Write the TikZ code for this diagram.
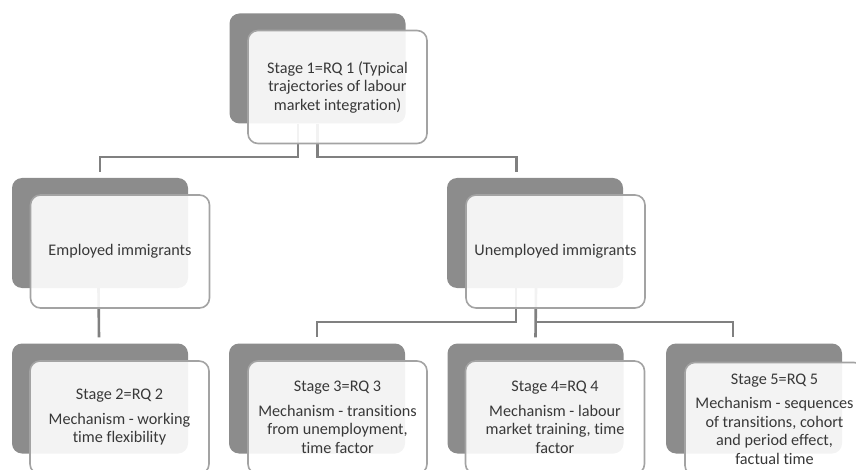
\documentclass[tikz,border=0pt]{standalone}
\usepackage{fontspec}
\setmainfont{Carlito}[Ligatures=NoCommon]
\usetikzlibrary{calc}
\pgfdeclarelayer{background}
\pgfsetlayers{background,main}
\definecolor{darkbox}{HTML}{8C8C8C}
\definecolor{framegray}{HTML}{A3A3A3}
\definecolor{conngray}{HTML}{808080}
\definecolor{txtgray}{HTML}{383838}
\tikzset{
  backbox/.style={rectangle, rounded corners=10pt, fill=darkbox, draw=none,
    minimum width=176pt, minimum height=110pt, inner sep=0pt},
  frontbox/.style={rectangle, rounded corners=10pt, fill=white, fill opacity=0.9,
    text opacity=1, draw=framegray, line width=1.6pt,
    minimum width=179pt, minimum height=113pt, inner sep=0pt,
    align=center, text=txtgray, font=\fontsize{16.2}{18.5}\selectfont},
  conn/.style={draw=conngray, line width=2.6pt}
}
\begin{document}
\begin{tikzpicture}[x=1pt,y=-1pt]
\useasboundingbox (0,0) rectangle (856,470);
% back boxes
\node[backbox] (topb) at (317.5,68.5) {};
\node[backbox] (empb) at (100,233) {};
\node[backbox] (unb) at (535,233) {};
\node[backbox] (s2b) at (100,398.5) {};
\node[backbox] (s3b) at (317,398.5) {};
\node[backbox] (s4b) at (535.5,398.5) {};
\node[backbox] (s5b) at (754,398.5) {};
% front boxes
\node[frontbox] (top) at (337.5,87) {Stage 1=RQ 1 (Typical\\trajectories of labour\\market integration)};
\node[frontbox] (emp) at (120,251.5) {Employed immigrants};
\node[frontbox] (un) at (555.5,251.5) {Unemployed immigrants};
\node[frontbox] (s2) at (119.5,417.5) {Stage 2=RQ 2\\[6pt]Mechanism - working\\time flexibility};
\node[frontbox] (s3) at (337.5,417.5) {Stage 3=RQ 3\\[6pt]Mechanism - transitions\\from unemployment,\\time factor};
\node[frontbox] (s4) at (555,417.5) {Stage 4=RQ 4\\[6pt]Mechanism - labour\\market training, time\\factor};
\node[frontbox] (s5) at (774.5,419) {Stage 5=RQ 5\\[6pt]Mechanism - sequences\\of transitions, cohort\\and period effect,\\factual time};
% junction levels
\coordinate (h1) at (0,157);
\coordinate (h2) at (0,322);
\begin{pgfonlayer}{background}
\draw[conn] ([xshift=-19.5pt]topb.south) -- ([xshift=-19.5pt]topb.south |- h1) -| ([yshift=6pt]empb.north);
\draw[conn] (topb.south) -- (topb.south |- h1) -| ([xshift=-18.5pt,yshift=6pt]unb.north);
\draw[conn] ([xshift=-1.5pt]empb.south) -- ([xshift=-1pt,yshift=6pt]s2b.north);
\draw[conn] ([xshift=-19pt]unb.south) -- ([xshift=-19pt]unb.south |- h2) -| ([yshift=6pt]s3b.north);
\draw[conn] ([xshift=1pt]unb.south) -- ([yshift=6pt]s4b.north);
\draw[conn] ([xshift=1pt]unb.south |- h2) -| ([xshift=-21pt,yshift=6pt]s5b.north);
\end{pgfonlayer}
\end{tikzpicture}
\end{document}
